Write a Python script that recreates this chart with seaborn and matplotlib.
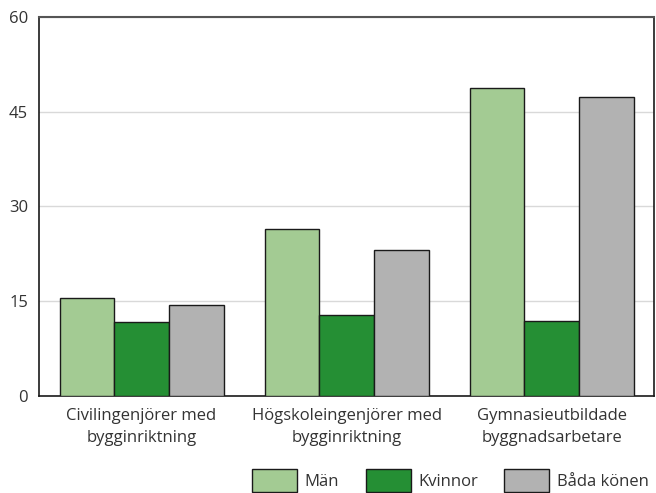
import pandas as pd
import matplotlib
matplotlib.use("Agg")
import matplotlib.pyplot as plt
import seaborn as sns

categories = ["Civilingenjörer med\nbygginriktning",
              "Högskoleingenjörer med\nbygginriktning",
              "Gymnasieutbildade\nbyggnadsarbetare"]
groups = ["Män", "Kvinnor", "Båda könen"]
man = [15.5, 26.4, 48.8]
kvinnor = [11.7, 12.8, 11.8]
bada = [14.4, 23.1, 47.4]
yticks = [0, 15, 30, 45, 60]

colors = ["#a3cb93", "#258f34", "#b2b2b2"]

sns.set_theme(style="white")
plt.rcParams["font.family"] = ["Open Sans", "DejaVu Sans"]

rows = []
for cat, a, b, c in zip(categories, man, kvinnor, bada):
    rows.append({"kategori": cat, "grupp": groups[0], "varde": a})
    rows.append({"kategori": cat, "grupp": groups[1], "varde": b})
    rows.append({"kategori": cat, "grupp": groups[2], "varde": c})
df = pd.DataFrame(rows)

fig = plt.figure(figsize=(6.56, 4.93), dpi=100)
ax = fig.add_axes([0.0595, 0.197, 0.9375, 0.7685])

sns.barplot(data=df, x="kategori", y="varde", hue="grupp", hue_order=groups,
            palette=colors, width=0.8, edgecolor="#1a1a1a", linewidth=1.0,
            saturation=1, ax=ax, zorder=3)

ax.set_ylim(0, 60)
ax.set_xlim(-0.5, 2.5)
ax.set_yticks(yticks)
ax.set_xlabel("")
ax.set_ylabel("")
ax.yaxis.grid(True, color="#d9d9d9", linewidth=1.0, zorder=0)
ax.set_axisbelow(True)
ax.tick_params(axis="both", length=0, labelsize=12, colors="#333333", pad=8)
ax.tick_params(axis="x", pad=9)
for lab in ax.get_xticklabels():
    lab.set_linespacing(1.45)

for side in ["left", "bottom", "right"]:
    ax.spines[side].set_color("#1a1a1a")
    ax.spines[side].set_linewidth(1.2)
ax.spines["top"].set_color("#555555")
ax.spines["top"].set_linewidth(1.5)

ax.get_legend().remove()
handles, labels = ax.get_legend_handles_labels()
fig.legend(handles, labels, loc="lower right", bbox_to_anchor=(1.012, -0.028),
           ncol=3, frameon=False, fontsize=12, handlelength=2.7,
           handleheight=1.75, handletextpad=0.45, columnspacing=1.6,
           labelcolor="#333333")

fig.savefig("out.png", dpi=100)
